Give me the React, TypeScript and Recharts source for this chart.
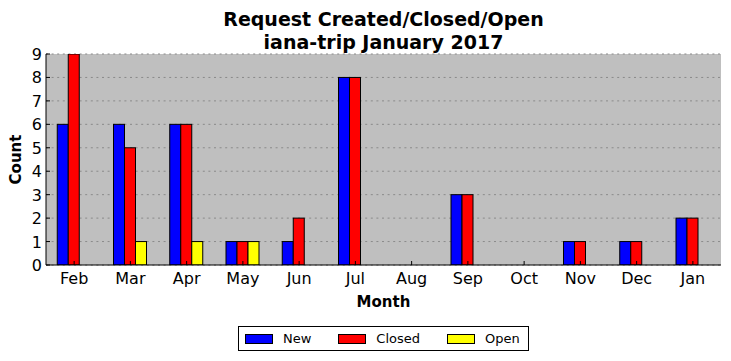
import React from "react"
import {
  BarChart,
  Bar,
  XAxis,
  YAxis,
  CartesianGrid,
  Legend,
  Customized,
} from "recharts"

const months = ["Feb", "Mar", "Apr", "May", "Jun", "Jul", "Aug", "Sep", "Oct", "Nov", "Dec", "Jan"]
const newCounts = [6, 6, 6, 1, 1, 8, 0, 3, 0, 1, 1, 2]
const closedCounts = [9, 5, 6, 1, 2, 8, 0, 3, 0, 1, 1, 2]
const openCounts = [0, 1, 1, 1, 0, 0, 0, 0, 0, 0, 0, 0]
const yTicks = [0, 1, 2, 3, 4, 5, 6, 7, 8, 9]
const titleLines = ["Request Created/Closed/Open", "iana-trip January 2017"]

const series = [
  { key: "new", name: "New", color: "#0000ff" },
  { key: "closed", name: "Closed", color: "#ff0000" },
  { key: "open", name: "Open", color: "#ffff00" },
]

const data = months.map((month, i) => ({
  month,
  new: newCounts[i],
  closed: closedCounts[i],
  open: openCounts[i],
}))

const FONT = "'DejaVu Sans', sans-serif"

// matplotlib draws zero-height bars as a flat outline, recharts skips them
function OutlinedBar(props: any) {
  const { x, y, width, height, fill } = props
  if (x == null || y == null) return null
  return (
    <rect
      x={x}
      y={y}
      width={width}
      height={Math.max(height || 0, 0)}
      fill={fill}
      stroke="#000"
      strokeWidth={1}
    />
  )
}

function BottomTick({ x, y, payload }: any) {
  return (
    <g>
      <line x1={x} y1={y} x2={x} y2={y - 4} stroke="#000" />
      <text x={x} y={y + 19} textAnchor="middle" fontSize={16} fontFamily={FONT} fill="#000">
        {payload.value}
      </text>
    </g>
  )
}

function TopTick({ x, y }: any) {
  return <line x1={x} y1={y} x2={x} y2={y + 4} stroke="#000" />
}

function LeftTick({ x, y, payload }: any) {
  return (
    <g>
      <line x1={x} y1={y} x2={x + 4} y2={y} stroke="#000" />
      <text x={x - 4} y={y + 6} textAnchor="end" fontSize={16} fontFamily={FONT} fill="#000">
        {payload.value}
      </text>
    </g>
  )
}

function RightTick({ x, y }: any) {
  return <line x1={x} y1={y} x2={x - 4} y2={y} stroke="#000" />
}

function LegendBox() {
  return (
    <div
      style={{
        display: "flex",
        alignItems: "center",
        height: 23,
        paddingLeft: 6,
        border: "1px solid #000",
        background: "#fff",
        fontFamily: FONT,
        fontSize: 13,
        boxSizing: "content-box",
      }}
    >
      {series.map((s) => (
        <div key={s.key} style={{ display: "flex", alignItems: "center", marginRight: 27 }}>
          <span
            style={{
              display: "inline-block",
              width: 26,
              height: 8,
              background: s.color,
              border: "1px solid #000",
              marginRight: 10,
            }}
          />
          <span>{s.name}</span>
        </div>
      ))}
    </div>
  )
}

function Title() {
  return (
    <g>
      {titleLines.map((line, i) => (
        <text
          key={line}
          x={383.5}
          y={26 + i * 23}
          textAnchor="middle"
          fontSize={19}
          fontWeight="bold"
          fontFamily={FONT}
          fill="#000"
        >
          {line}
        </text>
      ))}
    </g>
  )
}

export default function App() {
  return (
    <div style={{ position: "absolute", left: 0, top: 0, width: 731, height: 361, background: "#fff" }}>
      <BarChart
        width={731}
        height={361}
        data={data}
        margin={{ top: 54, right: 10, left: 0, bottom: 66 }}
        barCategoryGap="20%"
        barGap={0}
      >
        <CartesianGrid
          vertical={false}
          fill="#bfbfbf"
          stroke="#8a8a8a"
          strokeDasharray="2 3.6"
          yAxisId="left"
        />
        <XAxis
          dataKey="month"
          height={30}
          tickSize={0}
          tickMargin={0}
          tick={<BottomTick />}
          axisLine={{ stroke: "#000" }}
          tickLine={false}
          interval={0}
          label={(p: any) => {
            const vb = p.viewBox
            return (
              <text
                x={vb.x + vb.width / 2}
                y={307}
                textAnchor="middle"
                fontSize={15}
                fontWeight="bold"
                fontFamily={FONT}
              >
                Month
              </text>
            )
          }}
        />
        <XAxis
          xAxisId="top"
          dataKey="month"
          orientation="top"
          height={0}
          tickSize={0}
          tickMargin={0}
          tick={<TopTick />}
          axisLine={{ stroke: "#000" }}
          tickLine={false}
          interval={0}
        />
        <YAxis
          yAxisId="left"
          width={46}
          domain={[0, 9]}
          ticks={yTicks}
          tickSize={0}
          tickMargin={0}
          tick={<LeftTick />}
          axisLine={{ stroke: "#000" }}
          tickLine={false}
          allowDataOverflow
          label={(p: any) => {
            const vb = p.viewBox
            const cy = vb.y + vb.height / 2
            return (
              <text
                x={16}
                y={cy}
                transform={`rotate(-90 16 ${cy})`}
                textAnchor="middle"
                dominantBaseline="central"
                fontSize={15}
                fontWeight="bold"
                fontFamily={FONT}
              >
                Count
              </text>
            )
          }}
        />
        <YAxis
          yAxisId="right"
          orientation="right"
          width={0}
          domain={[0, 9]}
          ticks={yTicks}
          tickSize={0}
          tickMargin={0}
          tick={<RightTick />}
          axisLine={{ stroke: "#000" }}
          tickLine={false}
        />
        {series.map((s) => (
          <Bar
            key={s.key}
            dataKey={s.key}
            name={s.name}
            yAxisId="left"
            fill={s.color}
            shape={<OutlinedBar />}
            isAnimationActive={false}
          />
        ))}
        <Legend
          layout="horizontal"
          verticalAlign="middle"
          content={<LegendBox />}
          wrapperStyle={{ left: 238, top: 326, width: 291, height: 25 }}
        />
        <Customized component={<Title />} />
      </BarChart>
    </div>
  )
}
